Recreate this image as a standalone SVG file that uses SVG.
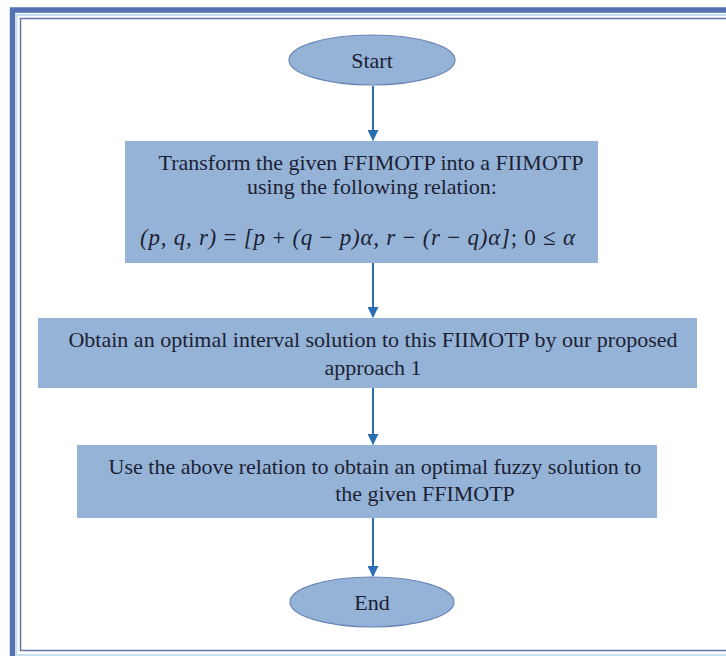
<svg xmlns="http://www.w3.org/2000/svg" width="726" height="656" viewBox="0 0 726 656">
<defs>
<marker id="ah" viewBox="0 0 10 10" refX="9" refY="5" markerWidth="11" markerHeight="11" markerUnits="userSpaceOnUse" orient="auto">
<path d="M0,0 L10,5 L0,10 z" fill="#2a6fb4"/>
</marker>
<style>
.t{font-family:"Liberation Serif","Times New Roman",serif;font-size:22px;fill:#1c1f33;text-anchor:middle}
.m{font-family:"Liberation Serif","Times New Roman",serif;font-size:23px;font-style:italic;fill:#1c1f33}
.box{fill:#95b3d7}
.ell{fill:#95b3d7;stroke:#6a86b8;stroke-width:1.2}
.c{stroke:#2a6fb4;stroke-width:2;fill:none;marker-end:url(#ah)}
</style>
</defs>
<rect x="0" y="0" width="726" height="656" fill="#ffffff"/>
<g id="frame" fill="none">
<rect x="12.5" y="10" width="730" height="660" stroke="#5472b3" stroke-width="5.5"/>
<rect x="16.5" y="15" width="730" height="640" stroke="#c5e3ee" stroke-width="2"/>
<rect x="20.5" y="18.5" width="730" height="632" stroke="#6478a6" stroke-width="1.5"/>
</g>
<g id="connectors">
<line class="c" x1="373" y1="86" x2="373" y2="140"/>
<line class="c" x1="373" y1="263" x2="373" y2="317"/>
<line class="c" x1="373" y1="388" x2="373" y2="444"/>
<line class="c" x1="373" y1="518" x2="373" y2="576"/>
</g>
<g id="start">
<ellipse class="ell" cx="372" cy="60" rx="83" ry="25"/>
<text class="t" x="372" y="68">Start</text>
</g>
<g id="transform">
<rect class="box" x="125" y="141" width="473" height="122"/>
<text class="t" x="371" y="170">Transform the given FFIMOTP into a FIIMOTP</text>
<text class="t" x="372" y="194">using the following relation:</text>
<text class="m" x="140" y="245" textLength="435" lengthAdjust="spacing">(p, q, r) <tspan font-style="normal">=</tspan> [p <tspan font-style="normal">+</tspan> (q <tspan font-style="normal">−</tspan> p)α, r <tspan font-style="normal">−</tspan> (r <tspan font-style="normal">−</tspan> q)α]<tspan font-style="normal">;  0 ≤ </tspan>α</text>
</g>
<g id="obtain">
<rect class="box" x="38" y="318" width="659" height="70"/>
<text class="t" x="373" y="347">Obtain an optimal interval solution to this FIIMOTP by our proposed</text>
<text class="t" x="373" y="375">approach 1</text>
</g>
<g id="use">
<rect class="box" x="77" y="445" width="580" height="73"/>
<text class="t" x="375" y="474">Use the above relation to obtain an optimal fuzzy solution to</text>
<text class="t" x="425" y="501">the given FFIMOTP</text>
</g>
<g id="end">
<ellipse class="ell" cx="372" cy="602" rx="82" ry="25"/>
<text class="t" x="372" y="610">End</text>
</g>
</svg>
